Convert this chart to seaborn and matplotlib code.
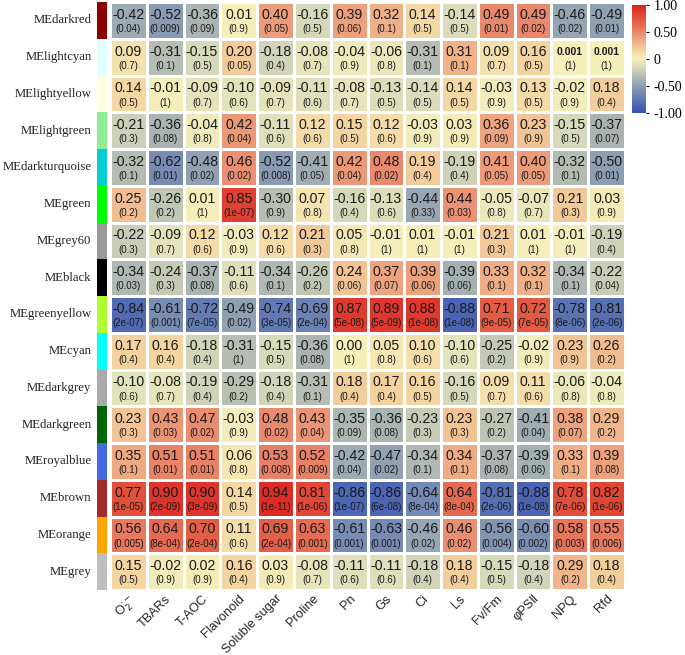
import numpy as np
import pandas as pd
import matplotlib
matplotlib.use("Agg")
import matplotlib.pyplot as plt
import seaborn as sns
from matplotlib.colors import LinearSegmentedColormap, ListedColormap

# module eigengenes (rows) and traits (columns)
modules = ["MEdarkred", "MElightcyan", "MElightyellow", "MElightgreen", "MEdarkturquoise",
           "MEgreen", "MEgrey60", "MEblack", "MEgreenyellow", "MEcyan", "MEdarkgrey",
           "MEdarkgreen", "MEroyalblue", "MEbrown", "MEorange", "MEgrey"]
module_colors = ["#8b0000", "#e0ffff", "#ffffe0", "#90ee90", "#00ced1", "#00ff00", "#999999",
                 "#000000", "#adff2f", "#00ffff", "#a9a9a9", "#006400", "#4169e1", "#a52a2a",
                 "#ffa500", "#bebebe"]
traits = [r"O$_2^{\cdot-}$", "TBARs", "T-AOC", "Flavonoid", "Soluble sugar", "Proline", "Pn", "Gs",
          "Ci", "Ls", "Fv/Fm", "φPSⅡ", "NPQ", "Rfd"]

corr = [
    [-0.42, -0.52, -0.36, 0.01, 0.40, -0.16, 0.39, 0.32, 0.14, -0.14, 0.49, 0.49, -0.46, -0.49],
    [0.09, -0.31, -0.15, 0.20, -0.18, -0.08, -0.04, -0.06, -0.31, 0.31, 0.09, 0.16, 0.001, 0.001],
    [0.14, -0.01, -0.09, -0.10, -0.09, -0.11, -0.08, -0.13, -0.14, 0.14, -0.03, 0.13, -0.02, 0.18],
    [-0.21, -0.36, -0.04, 0.42, -0.11, 0.12, 0.15, 0.12, -0.03, 0.03, 0.36, 0.23, -0.15, -0.37],
    [-0.32, -0.62, -0.48, 0.46, -0.52, -0.41, 0.42, 0.48, 0.19, -0.19, 0.41, 0.40, -0.32, -0.50],
    [0.25, -0.26, 0.01, 0.85, -0.30, 0.07, -0.16, -0.13, -0.44, 0.44, -0.05, -0.07, 0.21, 0.03],
    [-0.22, -0.09, 0.12, -0.03, 0.12, 0.21, 0.05, -0.01, 0.01, -0.01, 0.21, 0.01, -0.01, -0.19],
    [-0.34, -0.24, -0.37, -0.11, -0.34, -0.26, 0.24, 0.37, 0.39, -0.39, 0.33, 0.32, -0.34, -0.22],
    [-0.84, -0.61, -0.72, -0.49, -0.74, -0.69, 0.87, 0.89, 0.88, -0.88, 0.71, 0.72, -0.78, -0.81],
    [0.17, 0.16, -0.18, -0.31, -0.15, -0.36, 0.00, 0.05, 0.10, -0.10, -0.25, -0.02, 0.23, 0.26],
    [-0.10, -0.08, -0.19, -0.29, -0.18, -0.31, 0.18, 0.17, 0.16, -0.16, 0.09, 0.11, -0.06, -0.04],
    [0.23, 0.43, 0.47, -0.03, 0.48, 0.43, -0.35, -0.36, -0.23, 0.23, -0.27, -0.41, 0.38, 0.29],
    [0.35, 0.51, 0.51, 0.06, 0.53, 0.52, -0.42, -0.47, -0.34, 0.34, -0.37, -0.39, 0.33, 0.39],
    [0.77, 0.90, 0.90, 0.14, 0.94, 0.81, -0.86, -0.86, -0.64, 0.64, -0.81, -0.88, 0.78, 0.82],
    [0.56, 0.64, 0.70, 0.11, 0.69, 0.63, -0.61, -0.63, -0.46, 0.46, -0.56, -0.60, 0.58, 0.55],
    [0.15, -0.02, 0.02, 0.16, 0.03, -0.08, -0.11, -0.11, -0.18, 0.18, -0.15, -0.18, 0.29, 0.18],
]

pvals = [
    ["0.04", "0.009", "0.09", "0.9", "0.05", "0.5", "0.06", "0.1", "0.5", "0.5", "0.01", "0.02", "0.02", "0.01"],
    ["0.7", "0.1", "0.5", "0.05", "0.4", "0.7", "0.9", "0.8", "0.1", "0.1", "0.7", "0.5", "1", "1"],
    ["0.5", "1", "0.7", "0.6", "0.7", "0.6", "0.7", "0.5", "0.5", "0.5", "0.9", "0.5", "0.9", "0.4"],
    ["0.3", "0.08", "0.8", "0.04", "0.6", "0.6", "0.5", "0.6", "0.9", "0.9", "0.09", "0.9", "0.5", "0.07"],
    ["0.1", "0.01", "0.02", "0.02", "0.008", "0.05", "0.04", "0.02", "0.4", "0.4", "0.05", "0.05", "0.1", "0.01"],
    ["0.2", "0.2", "1", "1e-07", "0.9", "0.8", "0.4", "0.6", "0.33", "0.03", "0.8", "0.7", "0.3", "0.9"],
    ["0.3", "0.7", "0.6", "0.9", "0.6", "0.3", "0.8", "1", "1", "1", "0.3", "1", "1", "0.4"],
    ["0.03", "0.3", "0.08", "0.6", "0.1", "0.2", "0.06", "0.07", "0.06", "0.06", "0.1", "0.1", "0.1", "0.04"],
    ["2e-07", "0.001", "7e-05", "0.02", "3e-05", "2e-04", "5e-08", "5e-09", "1e-08", "1e-08", "9e-05", "7e-05", "8e-06", "2e-06"],
    ["0.4", "0.4", "0.4", "1", "0.5", "0.08", "1", "0.8", "0.6", "0.6", "0.2", "0.9", "0.9", "0.2"],
    ["0.6", "0.7", "0.4", "0.2", "0.4", "0.1", "0.4", "0.4", "0.5", "0.5", "0.7", "0.6", "0.8", "0.8"],
    ["0.3", "0.03", "0.02", "0.9", "0.02", "0.04", "0.09", "0.08", "0.3", "0.3", "0.2", "0.04", "0.07", "0.2"],
    ["0.1", "0.01", "0.01", "0.8", "0.008", "0.009", "0.04", "0.02", "0.1", "0.1", "0.08", "0.06", "0.1", "0.08"],
    ["1e-05", "2e-09", "3e-09", "0.5", "1e-11", "1e-06", "1e-07", "6e-08", "8e-04", "8e-04", "2e-06", "1e-08", "7e-06", "1e-06"],
    ["0.005", "8e-04", "2e-04", "0.6", "2e-04", "0.001", "0.001", "0.001", "0.02", "0.02", "0.004", "0.002", "0.003", "0.006"],
    ["0.5", "0.9", "0.9", "0.4", "0.9", "0.7", "0.6", "0.6", "0.4", "0.4", "0.5", "0.4", "0.2", "0.4"],
]

df = pd.DataFrame(corr, index=modules, columns=traits)

cmap = LinearSegmentedColormap.from_list("bwr_muted", [
    (0.0, "#3552b3"), (0.25, "#8d9eb3"), (0.35, "#b8bfb2"), (0.425, "#d8dabb"),
    (0.5, "#f5f0bb"), (0.575, "#f4d6a2"), (0.65, "#f0b48a"), (0.75, "#e8866b"),
    (0.875, "#e3543d"), (1.0, "#dc2020")])

fig = plt.figure(figsize=(6.85, 6.55), dpi=100)
ax = fig.add_axes([0.1606, 0.0992, 0.7518, 0.8977])
cax = fig.add_axes([0.9226, 0.8275, 0.0204, 0.165])
sax = fig.add_axes([0.1416, 0.0992, 0.0146, 0.8977])

sns.heatmap(df, ax=ax, cmap=cmap, vmin=-1, vmax=1, linewidths=2, linecolor="white",
            cbar_ax=cax, xticklabels=True, yticklabels=False)

sans = ["Liberation Sans", "DejaVu Sans"]
for i in range(len(modules)):
    for j in range(len(traits)):
        v = corr[i][j]
        if abs(v) < 0.005 and v != 0:
            ax.text(j + 0.5, i + 0.35, f"{v:.3f}", ha="center", va="center", family=sans,
                    fontsize=7.5, fontweight="bold", color="#1a1a1a")
        else:
            ax.text(j + 0.5, i + 0.35, f"{v:.2f}", ha="center", va="center", family=sans,
                    fontsize=10.2, color="#1a1a1a")
        ax.text(j + 0.5, i + 0.74, f"({pvals[i][j]})", ha="center", va="center", family=sans,
                fontsize=7, color="#1a1a1a")

ax.set_xlabel("")
ax.set_ylabel("")
ax.tick_params(axis="x", length=0, pad=2)
plt.setp(ax.get_xticklabels(), rotation=45, ha="right", rotation_mode="anchor",
         fontsize=9.2, color="#222222", family=sans)

# module colour strip
strip = pd.DataFrame(np.arange(len(modules)).reshape(-1, 1), index=modules)
sns.heatmap(strip, ax=sax, cmap=ListedColormap(module_colors), cbar=False,
            xticklabels=False, yticklabels=True)
sax.set_ylabel("")
sax.tick_params(axis="y", length=0, pad=4)
plt.setp(sax.get_yticklabels(), rotation=0, fontsize=9.2, family="Liberation Serif",
         color="#222222")

cbar = ax.collections[0].colorbar
cbar.set_ticks([1, 0.5, 0, -0.5, -1])
cbar.set_ticklabels(["1.00", "0.50", "0", "-0.50", "-1.00"])
cbar.outline.set_visible(False)
cax.tick_params(length=2, labelsize=10)
for t in cax.get_yticklabels():
    t.set_family("Liberation Serif")

fig.savefig("out.png", dpi=100)
